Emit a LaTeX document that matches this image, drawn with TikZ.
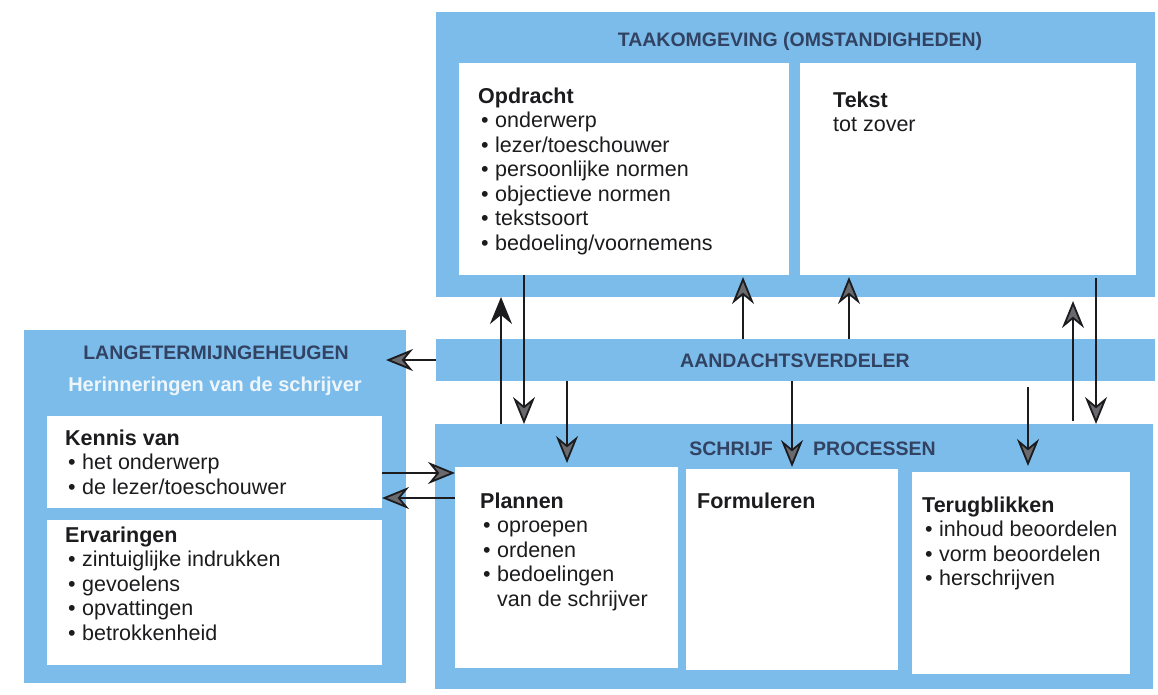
\documentclass[tikz,border=0pt]{standalone}
\usepackage{fontspec}
\setmainfont{Liberation Sans}
\usetikzlibrary{arrows.meta}
\definecolor{boxblue}{RGB}{124,188,234}
\definecolor{titleblue}{RGB}{50,66,98}
\definecolor{subwhite}{RGB}{238,246,252}
\definecolor{headgray}{RGB}{105,105,110}
\definecolor{inkdark}{RGB}{28,28,30}
\newcommand\bpt{\makebox[17pt][l]{\hspace{3pt}•}}
\begin{document}
\begin{tikzpicture}[x=1pt,y=-1pt,
  bluebox/.style={fill=boxblue, draw=none, inner sep=0pt, outer sep=0pt, anchor=north west},
  whitebox/.style={fill=white, draw=none, inner sep=0pt, outer sep=0pt, anchor=north west},
  boxtitle/.style={font=\fontsize{19.5}{23}\selectfont\bfseries, text=titleblue, inner sep=0pt, anchor=base},
  subtitle/.style={font=\fontsize{20}{24}\selectfont\bfseries, text=subwhite, inner sep=0pt, anchor=base},
  body/.style={font=\fontsize{21.5}{24.5}\selectfont, text=inkdark, inner sep=0pt, anchor=base west},
  arr/.style={draw=inkdark, line width=1.8pt, -{Stealth[length=27pt,width=22pt,inset=9pt,fill=headgray]}},
  arrb/.style={draw=inkdark, line width=1.8pt, -{Stealth[length=27pt,width=22pt,inset=9pt,fill=inkdark]}},
]
\useasboundingbox (0,0) rectangle (1158,694);

% ---- task environment
\node[bluebox, minimum width=719pt, minimum height=285pt] (taak) at (436,12) {};
\node[whitebox, minimum width=330pt, minimum height=212pt] (opdracht) at (459,63) {};
\node[whitebox, minimum width=336pt, minimum height=212pt] (tekst) at (800,63) {};
\node[boxtitle] (taaktitle) at (800,46) {TAAKOMGEVING (OMSTANDIGHEDEN)};
\node[body] (opdrachttxt) at (478,103) {\begin{tabular}[t]{@{}l@{}}
\textbf{Opdracht}\\
\bpt onderwerp\\
\bpt lezer/toeschouwer\\
\bpt persoonlijke normen\\
\bpt objectieve normen\\
\bpt tekstsoort\\
\bpt bedoeling/voornemens
\end{tabular}};
\node[body] (teksttxt) at (833,107) {\begin{tabular}[t]{@{}l@{}}
\textbf{Tekst}\\
tot zover
\end{tabular}};

% ---- attention distributor
\node[bluebox, minimum width=719pt, minimum height=42pt] (aandacht) at (436,339) {};
\node[boxtitle] (aandachttitle) at (795,367) {AANDACHTSVERDELER};

% ---- long term memory
\node[bluebox, minimum width=382pt, minimum height=353pt] (ltm) at (24,330) {};
\node[whitebox, minimum width=335pt, minimum height=92pt] (kennis) at (47,416) {};
\node[whitebox, minimum width=335pt, minimum height=145pt] (ervaringen) at (47,520) {};
\node[boxtitle] (ltmtitle) at (216,359) {LANGETERMIJNGEHEUGEN};
\node[subtitle] (ltmsub) at (215,391) {Herinneringen van de schrijver};
\node[body] (kennistxt) at (65,445) {\begin{tabular}[t]{@{}l@{}}
\textbf{Kennis van}\\
\bpt het onderwerp\\
\bpt de lezer/toeschouwer
\end{tabular}};
\node[body] (ervaringentxt) at (65,542) {\begin{tabular}[t]{@{}l@{}}
\textbf{Ervaringen}\\
\bpt zintuiglijke indrukken\\
\bpt gevoelens\\
\bpt opvattingen\\
\bpt betrokkenheid
\end{tabular}};

% ---- writing processes
\node[bluebox, minimum width=718pt, minimum height=265pt] (schrijf) at (435,424) {};
\node[whitebox, minimum width=223pt, minimum height=201pt] (plannen) at (455,467) {};
\node[whitebox, minimum width=212pt, minimum height=201pt] (formuleren) at (686,469) {};
\node[whitebox, minimum width=218pt, minimum height=202pt] (terugblikken) at (912,472) {};
\node[boxtitle, anchor=base east] (schrijftitleA) at (773,455) {SCHRIJF};
\node[boxtitle, anchor=base west] (schrijftitleB) at (813,455) {PROCESSEN};
\node[body] (plannentxt) at (480,508) {\begin{tabular}[t]{@{}l@{}}
\textbf{Plannen}\\
\bpt oproepen\\
\bpt ordenen\\
\bpt bedoelingen\\
\hspace{17pt}van de schrijver
\end{tabular}};
\node[body] (formulerentxt) at (697,508) {\textbf{Formuleren}};
\node[body] (terugblikkentxt) at (922,512) {\begin{tabular}[t]{@{}l@{}}
\textbf{Terugblikken}\\
\bpt inhoud beoordelen\\
\bpt vorm beoordelen\\
\bpt herschrijven
\end{tabular}};

% ---- connectors
\coordinate (ltmtip) at ([xshift=-20pt]ltm.east |- aandacht.west);
\draw[arr] (aandacht.west) -- (ltmtip);
\draw[arrb] (schrijf.north -| 501,0) -- (taak.south -| 501,0);
\draw[arr] (opdracht.south -| 524,0) -- (schrijf.north -| 524,0);
\draw[arr] (aandacht.south -| 567,0) -- ([yshift=4pt]plannen.north -| 567,0);
\draw[arr] (aandacht.north -| 743,0) -- ([yshift=-2pt]opdracht.south -| 743,0);
\draw[arr] (aandacht.north -| 849,0) -- ([yshift=-2pt]tekst.south -| 849,0);
\draw[arr] (aandacht.south -| 792,0) -- ([yshift=2pt]formuleren.north -| 792,0);
\draw[arr] ([yshift=-6pt]aandacht.south -| 1028,0) -- ([yshift=6pt]terugblikken.north -| 1028,0);
\draw[arr] ([yshift=3pt]schrijf.north -| 1073,0) -- ([yshift=-4pt]taak.south -| 1073,0);
\draw[arr] ([yshift=-3pt]tekst.south -| 1096,0) -- (schrijf.north -| 1096,0);
\draw[arr] (kennis.east |- 0,473) -- (plannen.west |- 0,473);
\draw[arr] (plannen.west |- 0,498) -- (kennis.east |- 0,498);
\end{tikzpicture}
\end{document}
